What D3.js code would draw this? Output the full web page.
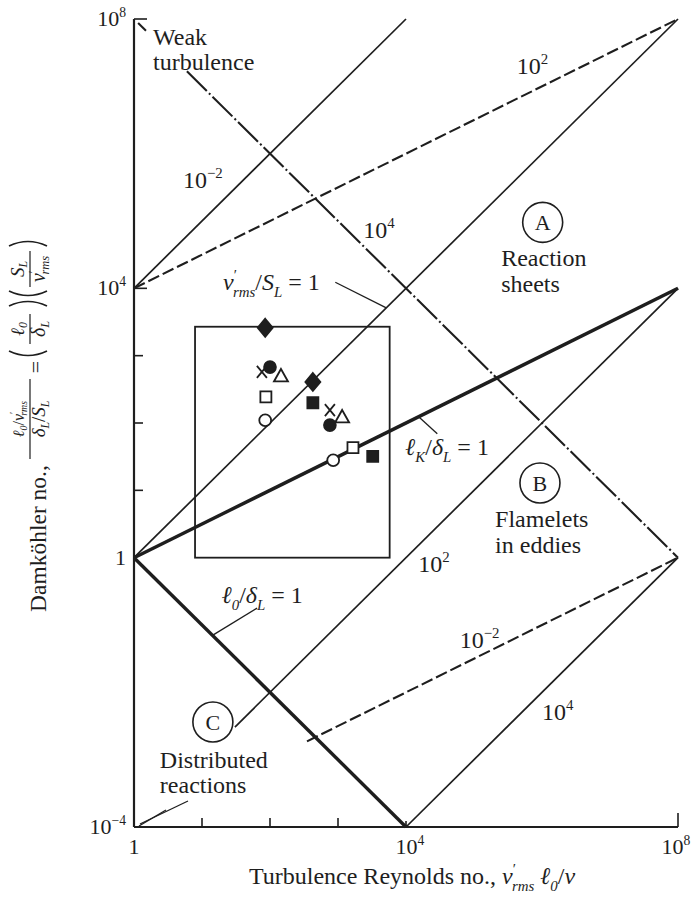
<!DOCTYPE html>
<html>
<head>
<meta charset="utf-8">
<script src="https://cdn.jsdelivr.net/npm/d3@7"></script>
<style>
  body { margin: 0; background: #fff; }
  text { font-family: "Liberation Serif", "Times New Roman", serif; fill: #1e1e1e; }
</style>
</head>
<body>
<script>
'use strict';

// axis ticks
const reMajor = [1, 1e4, 1e8];
const daMajor = [1e-4, 1, 1e4, 1e8];
const minorTicks = [10, 100, 1000];
const reTickLabels = [["1", ""], ["10", "4"], ["10", "8"]];
const daTickLabels = [["10", "\u22124"], ["1", ""], ["10", "4"], ["10", "8"]];

// lines of constant v'rms/SL  (Da = Re / (v'/SL)^2), endpoints [Re, Da]
const velocityLines = [
  [[1, 1e4], [1e4, 1e8]],          // 10^-2
  [[1, 1], [1e8, 1e8]],            // 1
  [[30.5, 3.05e-3], [1e8, 1e4]],   // 10^2
  [[1e4, 1e-4], [1e8, 1]]          // 10^4
];
// lines of constant lK/dL (slope 1/2)
const kolmogorovDashed = [
  [[1, 1e4], [1e8, 1e8]],
  [[350, 1.87e-3], [1e8, 1]]
];
const kolmogorovUnity = [[1, 1], [1e8, 1e4]];
// lines of constant l0/dL (slope -1)
const integralUnity = [[1, 1], [1e4, 1e-4]];
const integralUpper = [
  [[1.15, 8.7e7], [1.5, 6.7e7]],
  [[6, 1.67e7], [1e8, 1]]
];

// experimental box and points
const boxRe = [7.9, 5750];
const boxDa = [1, 2690];
const pointKind = ["diamondFilled", "diamondFilled", "circleFilled", "cross", "triangleOpen",
  "squareOpen", "circleOpen", "squareFilled", "cross", "triangleOpen", "circleFilled",
  "squareOpen", "circleOpen", "squareFilled"];
const pointRe = [85, 427, 100, 76, 145, 87, 85, 427, 760, 1150, 760, 1660, 850, 3240];
const pointDa = [2600, 407, 676, 575, 500, 245, 110, 200, 155, 123, 93, 43, 28, 32];

const width = 694, height = 899;
const svg = d3.select("body").append("svg").attr("width", width).attr("height", height);

const x = d3.scaleLog().domain([1, 1e8]).range([134, 678]);
const y = d3.scaleLog().domain([1e-4, 1e8]).range([827, 19]);
const at = (lx, ly) => [x(Math.pow(10, lx)), y(Math.pow(10, ly))];
const ink = "#1e1e1e";

const line = d3.line().x(d => x(d[0])).y(d => y(d[1]));

function draw(pts, w, dash) {
  const p = svg.append("path").attr("d", line(pts))
    .attr("fill", "none").attr("stroke", ink).attr("stroke-width", w);
  if (dash) p.attr("stroke-dasharray", dash);
  return p;
}

// rich text helper: parts [{t, s:'sub'|'sup', i:italic}]
function rich(sel, parts, size, subShift) {
  let shift = 0;
  const down = subShift === undefined ? 0.28 : subShift;
  parts.forEach(p => {
    const target = p.s === "sub" ? size * down : p.s === "sup" ? -size * 0.42 : 0;
    const ts = sel.append("tspan").attr("dy", target - shift).text(p.t);
    if (p.s) ts.attr("font-size", size * 0.62);
    if (p.i) ts.attr("font-style", "italic");
    if (p.dx) ts.attr("dx", p.dx);
    shift = target;
  });
  return sel;
}
function label(parts, pos, size, anchor) {
  const t = svg.append("text").attr("x", pos[0]).attr("y", pos[1])
    .attr("font-size", size || 24).attr("text-anchor", anchor || "start");
  return rich(t, parts, size || 24);
}

// ---- axes
svg.append("line").attr("x1", x(1)).attr("x2", x(1)).attr("y1", y(1e8)).attr("y2", y(1e-4))
  .attr("stroke", ink).attr("stroke-width", 2.2);
svg.append("line").attr("x1", x(1)).attr("x2", x(1e8)).attr("y1", y(1e-4)).attr("y2", y(1e-4))
  .attr("stroke", ink).attr("stroke-width", 2.2);

minorTicks.forEach(v => {
  svg.append("line").attr("x1", x(v)).attr("x2", x(v)).attr("y1", y(1e-4)).attr("y2", y(1e-4) - 9)
    .attr("stroke", ink).attr("stroke-width", 1.6);
  svg.append("line").attr("x1", x(1)).attr("x2", x(1) + 9).attr("y1", y(v)).attr("y2", y(v))
    .attr("stroke", ink).attr("stroke-width", 1.6);
});
[1e4, 1e8].forEach(v => {
  svg.append("line").attr("x1", x(v)).attr("x2", x(v)).attr("y1", y(1e-4)).attr("y2", y(1e-4) - (v === 1e8 ? 14 : 6))
    .attr("stroke", ink).attr("stroke-width", 1.6);
  svg.append("line").attr("x1", x(1)).attr("x2", x(1) + 13).attr("y1", y(v)).attr("y2", y(v))
    .attr("stroke", ink).attr("stroke-width", 1.6);
});

reMajor.forEach((v, i) => {
  const l = reTickLabels[i];
  const parts = [{ t: l[0] }];
  if (l[1]) parts.push({ t: l[1], s: "sup" });
  const px = Math.min(x(v) + (l[1] ? 4 : 0), width - 18);
  label(parts, [px, 854], 22, "middle");
});
daMajor.forEach((v, i) => {
  const l = daTickLabels[i];
  const parts = [{ t: l[0] }];
  if (l[1]) parts.push({ t: l[1], s: "sup" });
  label(parts, [126, y(v) + 7], 22, "end");
});

// ---- regime lines
velocityLines.forEach(l => draw(l, 1.7));
kolmogorovDashed.forEach(l => draw(l, 2.1, "12,4"));
draw(kolmogorovUnity, 3.4);
draw(integralUnity, 3.4);
integralUpper.forEach(l => draw(l, 2.1, "28,3,2,3"));

// ---- box and data points
svg.append("rect")
  .attr("x", x(boxRe[0])).attr("y", y(boxDa[1]))
  .attr("width", x(boxRe[1]) - x(boxRe[0])).attr("height", y(boxDa[0]) - y(boxDa[1]))
  .attr("fill", "none").attr("stroke", ink).attr("stroke-width", 1.8);

const shapes = {
  diamondFilled: "M0,-9L7.5,0L0,9L-7.5,0Z",
  circleFilled: d3.symbol(d3.symbolCircle, 110)(),
  circleOpen: d3.symbol(d3.symbolCircle, 110)(),
  squareOpen: "M-5.5,-5.5H5.5V5.5H-5.5Z",
  squareFilled: "M-5.5,-5.5H5.5V5.5H-5.5Z",
  triangleOpen: "M0,-7L7,5.5H-7Z",
  cross: "M-5,-6L5,6M5,-6L-5,6"
};
svg.append("g").selectAll("path").data(pointKind).join("path")
  .attr("transform", (d, i) => `translate(${x(pointRe[i])},${y(pointDa[i])})`)
  .attr("d", d => shapes[d])
  .attr("fill", d => d === "cross" ? "none" : d.endsWith("Filled") ? ink : "#fff")
  .attr("stroke", ink).attr("stroke-width", 1.8);

// ---- leaders
const leaders = [
  [[2.96, 4.09], [3.71, 3.71]],
  [[4.46, 1.84], [4.19, 2.09]],
  [[1.81, -0.75], [1.16, -1.15]],
  [[0.794, -3.614], [0.088, -3.956]],
  [[0.47, -3.748], [0.074, -3.986]]
];
leaders.forEach(l => {
  const a = at(l[0][0], l[0][1]), b = at(l[1][0], l[1][1]);
  svg.append("line").attr("x1", a[0]).attr("y1", a[1]).attr("x2", b[0]).attr("y2", b[1])
    .attr("stroke", ink).attr("stroke-width", 1.3);
});

// ---- circled regime letters
[["A", [6.01, 4.98]], ["B", [5.97, 1.11]], ["C", [1.16, -2.44]]].forEach(c => {
  const p = at(c[1][0], c[1][1]);
  svg.append("circle").attr("cx", p[0]).attr("cy", p[1]).attr("r", 20)
    .attr("fill", "#fff").attr("stroke", ink).attr("stroke-width", 1.6);
  svg.append("text").attr("x", p[0]).attr("y", p[1] + 8).attr("text-anchor", "middle")
    .attr("font-size", 22).text(c[0]);
});

// ---- annotations
const it = s => ({ t: s, i: true });
const sub = s => ({ t: s, s: "sub", i: true });
const sup = s => ({ t: s, s: "sup" });
const notes = [
  [[{ t: "Weak" }], [0.28, 7.61]],
  [[{ t: "turbulence" }], [0.28, 7.24]],
  [[{ t: "10" }, sup("\u22122")], [0.72, 5.49]],
  [[{ t: "10" }, sup("2")], [5.63, 7.18]],
  [[{ t: "10" }, sup("4")], [3.37, 4.75]],
  [[{ t: "Reaction" }], [5.40, 4.33]],
  [[{ t: "sheets" }], [5.40, 3.95]],
  [[it("v"), sup("\u2032"), { t: "rms", s: "sub", i: true, dx: -4 }, { t: "/" }, it("S"), sub("L"), { t: " = 1" }], [1.31, 3.97]],
  [[it("\u2113"), sub("K"), { t: "/" }, it("\u03b4"), sub("L"), { t: " = 1" }], [3.99, 1.52]],
  [[{ t: "Flamelets" }], [5.31, 0.455]],
  [[{ t: "in eddies" }], [5.31, 0.07]],
  [[{ t: "10" }, sup("2")], [4.18, -0.21]],
  [[it("\u2113"), sub("0"), { t: "/" }, it("\u03b4"), sub("L"), { t: " = 1" }], [1.29, -0.67]],
  [[{ t: "10" }, sup("\u22122")], [4.79, -1.34]],
  [[{ t: "10" }, sup("4")], [6.0, -2.41]],
  [[{ t: "Distributed" }], [0.38, -3.12]],
  [[{ t: "reactions" }], [0.38, -3.50]]
];
notes.forEach(n => label(n[0], at(n[1][0], n[1][1]), 24));

// ---- x axis title
label([{ t: "Turbulence Reynolds no., " }, it("v"), sup("\u2032"), { t: "rms", s: "sub", i: true, dx: -4 },
  { t: " " }, it("\u2113"), sub("0"), { t: "/" }, it("\u03bd")], [412, 884], 24, "middle");

// ---- y axis title (rotated)
const gy = svg.append("g").attr("transform", "translate(46,612) rotate(-90)");
rich(gy.append("text").attr("font-size", 23.5), [{ t: "Damk\u00f6hler no.," }], 23.5);

function frac(cx, top, bottom, half, topSize, botSize) {
  rich(gy.append("text").attr("x", cx).attr("y", -22).attr("text-anchor", "middle").attr("font-size", topSize), top, topSize, 0.18);
  rich(gy.append("text").attr("x", cx).attr("y", -1).attr("text-anchor", "middle").attr("font-size", botSize), bottom, botSize, 0.2);
  gy.append("line").attr("x1", cx - half).attr("x2", cx + half).attr("y1", -16).attr("y2", -16)
    .attr("stroke", ink).attr("stroke-width", 1.2);
}
function parens(x0, x1) {
  gy.append("path").attr("d", `M${x0 + 6},-37Q${x0 - 3},-18 ${x0 + 6},1`)
    .attr("fill", "none").attr("stroke", ink).attr("stroke-width", 1.7);
  gy.append("path").attr("d", `M${x1 - 6},-37Q${x1 + 3},-18 ${x1 - 6},1`)
    .attr("fill", "none").attr("stroke", ink).attr("stroke-width", 1.7);
}
frac(193, [it("\u2113"), sub("0"), { t: "/" }, it("v"), sup("\u2032"), { t: "rms", s: "sub", i: true, dx: -4 }],
  [it("\u03b4"), sub("L"), { t: "/" }, it("S"), sub("L")], 40, 16, 19);
gy.append("text").attr("x", 245).attr("y", -3).attr("text-anchor", "middle").attr("font-size", 22).text("=");
parens(255, 312);
frac(283, [it("\u2113"), sub("0")], [it("\u03b4"), sub("L")], 15, 19, 20);
parens(315, 372);
frac(343, [it("S"), sub("L")], [it("v"), sup("\u2032"), { t: "rms", s: "sub", i: true, dx: -4 }], 18, 19, 20);
</script>
</body>
</html>
